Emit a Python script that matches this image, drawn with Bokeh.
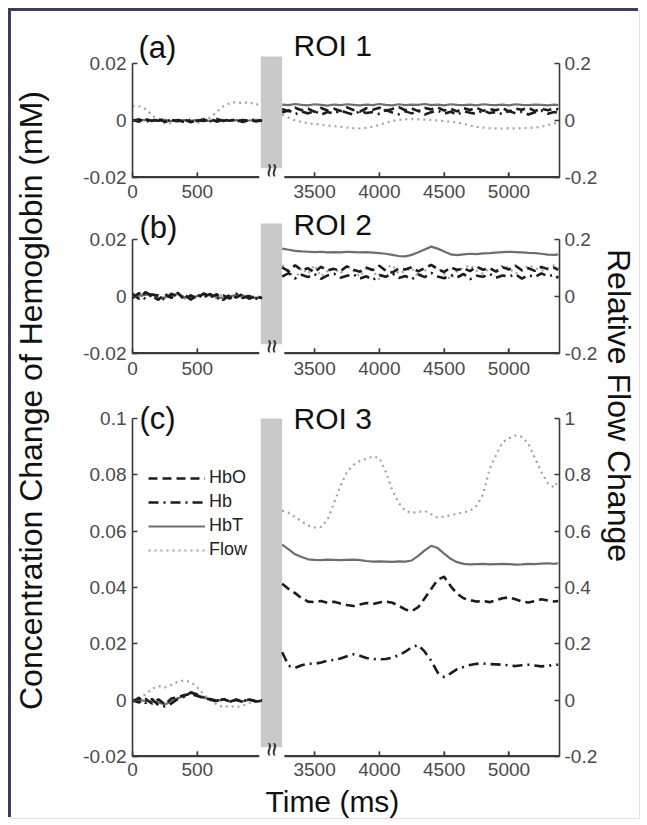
import math
import numpy as np
from bokeh.plotting import figure
from bokeh.models import Range1d, LinearAxis, FixedTicker, Label, Legend, LegendItem
from bokeh.layouts import row, column
from bokeh.embed import file_html
from bokeh.resources import INLINE

FONT = "Liberation Sans"

# ---------------- data ----------------
T_LEFT = [0, 50, 100, 150, 200, 250, 300,
          350, 400, 450, 500, 550, 600, 650,
          700, 750, 800, 850, 900, 950, 1000]
T_RIGHT = [3250, 3300, 3350, 3400, 3450, 3500, 3550, 3600, 3650, 3700, 3750,
           3800, 3850, 3900, 3950, 4000, 4050, 4100, 4150, 4200, 4250, 4300,
           4350, 4400, 4450, 4500, 4550, 4600, 4650, 4700, 4750, 4800, 4850,
           4900, 4950, 5000, 5050, 5100, 5150, 5200, 5250, 5300, 5350, 5380]

XTICK_TIMES = [0, 500, 3500, 4000, 4500, 5000]
XTICK_LABELS = ["0", "500", "3500", "4000", "4500", "5000"]

CONC_TICKS_AB = [-0.02, 0, 0.02]
CONC_LABELS_AB = ["-0.02", "0", "0.02"]
FLOW_TICKS_AB = [-0.2, 0, 0.2]
FLOW_LABELS_AB = ["-0.2", "0", "0.2"]
CONC_TICKS_C = [-0.02, 0, 0.02, 0.04, 0.06, 0.08, 0.1]
CONC_LABELS_C = ["-0.02", "0", "0.02", "0.04", "0.06", "0.08", "0.1"]
FLOW_TICKS_C = [-0.2, 0, 0.2, 0.4, 0.6, 0.8, 1]
FLOW_LABELS_C = ["-0.2", "0", "0.2", "0.4", "0.6", "0.8", "1"]

SERIES = ["HbO", "Hb", "HbT", "Flow"]

# panel (a) ROI 1
HBO_A_LEFT = [0.0003, -0.0004, 0.0005, -0.0002, 0.0006, -0.0005, 0.0002,
              -0.0003, 0.0004, -0.0006, 0.0001, -0.0002, 0.0005, -0.0004,
              0.0003, -0.0001, 0.0004, -0.0005, 0.0002, -0.0003, 0.0001]
HB_A_LEFT = [-0.0002, 0.0004, -0.0005, 0.0003, -0.0001, 0.0005, -0.0004,
             0.0002, -0.0006, 0.0003, -0.0002, 0.0004, -0.0003, 0.0005,
             -0.0002, 0.0003, -0.0004, 0.0002, -0.0001, 0.0004, -0.0002]
HBT_A_LEFT = [0.0001, 0.0000, 0.0002, 0.0001, -0.0001, 0.0002, -0.0002,
              0.0000, 0.0001, -0.0001, 0.0002, 0.0000, -0.0001, 0.0001,
              0.0002, 0.0000, 0.0001, -0.0001, 0.0000, 0.0002, 0.0001]
FLOW_A_LEFT = [0.050, 0.050, 0.040, 0.020, 0.000, -0.010, -0.010,
               0.000, -0.005, 0.000, -0.010, 0.000, 0.010, 0.030,
               0.050, 0.060, 0.065, 0.060, 0.065, 0.055, 0.060]
HBO_A_RIGHT = [0.0040, 0.0032, 0.0045, 0.0036, 0.0042, 0.0030, 0.0044, 0.0035, 0.0041, 0.0033, 0.0046,
               0.0037, 0.0031, 0.0043, 0.0038, 0.0045, 0.0034, 0.0040, 0.0047, 0.0036, 0.0042, 0.0033,
               0.0044, 0.0039, 0.0046, 0.0035, 0.0041, 0.0032, 0.0043, 0.0037, 0.0045, 0.0034, 0.0040,
               0.0036, 0.0044, 0.0031, 0.0042, 0.0038, 0.0045, 0.0033, 0.0041, 0.0036, 0.0043, 0.0039]
HB_A_RIGHT = [0.0028, 0.0036, 0.0022, 0.0031, 0.0025, 0.0034, 0.0020, 0.0030, 0.0024, 0.0035, 0.0027,
              0.0021, 0.0033, 0.0026, 0.0030, 0.0023, 0.0037, 0.0028, 0.0022, 0.0032, 0.0025, 0.0034,
              0.0021, 0.0029, 0.0035, 0.0024, 0.0031, 0.0020, 0.0033, 0.0027, 0.0023, 0.0036, 0.0026,
              0.0030, 0.0022, 0.0034, 0.0025, 0.0031, 0.0021, 0.0029, 0.0035, 0.0024, 0.0030, 0.0027]
HBT_A_RIGHT = [0.0056, 0.0054, 0.0058, 0.0055, 0.0053, 0.0057, 0.0055, 0.0052, 0.0056, 0.0054, 0.0057,
               0.0055, 0.0053, 0.0056, 0.0054, 0.0058, 0.0055, 0.0053, 0.0057, 0.0054, 0.0056, 0.0055,
               0.0058, 0.0054, 0.0056, 0.0053, 0.0057, 0.0055, 0.0054, 0.0056, 0.0053, 0.0057, 0.0055,
               0.0054, 0.0056, 0.0053, 0.0057, 0.0055, 0.0054, 0.0056, 0.0055, 0.0053, 0.0056, 0.0054]
FLOW_A_RIGHT = [0.020, 0.010, 0.000, -0.005, -0.010, -0.012, -0.015, -0.018, -0.020, -0.022, -0.025,
                -0.027, -0.028, -0.026, -0.022, -0.015, -0.008, -0.002, 0.002, 0.004, 0.005, 0.004,
                0.003, 0.002, 0.000, -0.002, -0.004, -0.007, -0.012, -0.018, -0.022, -0.025, -0.027,
                -0.028, -0.028, -0.027, -0.028, -0.027, -0.026, -0.025, -0.022, -0.016, -0.010, -0.008]

# panel (b) ROI 2
HBO_B_LEFT = [0.0010, -0.0008, 0.0015, 0.0002, -0.0012, 0.0009, -0.0005,
              0.0013, -0.0010, 0.0004, -0.0007, 0.0011, -0.0003, 0.0008,
              -0.0012, 0.0006, -0.0004, 0.0009, -0.0008, 0.0003, -0.0006]
HB_B_LEFT = [-0.0006, 0.0012, -0.0010, 0.0007, 0.0003, -0.0013, 0.0010,
             -0.0004, 0.0008, -0.0011, 0.0005, -0.0002, 0.0009, -0.0009,
             0.0004, -0.0007, 0.0010, -0.0005, 0.0002, -0.0008, 0.0001]
HBT_B_LEFT = [0.0004, 0.0003, 0.0006, 0.0008, -0.0006, -0.0003, 0.0004,
              0.0009, -0.0002, -0.0006, 0.0002, 0.0008, 0.0005, -0.0001,
              -0.0007, 0.0001, 0.0005, 0.0004, -0.0006, -0.0004, -0.0005]
FLOW_B_LEFT = [0.010, -0.010, 0.015, 0.000, -0.012, 0.008, -0.005,
               0.012, -0.008, 0.005, -0.010, 0.010, 0.000, -0.006,
               0.008, -0.010, 0.004, -0.004, 0.006, -0.008, 0.000]
HBO_B_RIGHT = [0.0102, 0.0088, 0.0110, 0.0092, 0.0099, 0.0085, 0.0104, 0.0091, 0.0097, 0.0089, 0.0106,
               0.0094, 0.0087, 0.0101, 0.0093, 0.0108, 0.0090, 0.0084, 0.0098, 0.0095, 0.0103, 0.0088,
               0.0100, 0.0111, 0.0096, 0.0086, 0.0102, 0.0093, 0.0099, 0.0089, 0.0105, 0.0094, 0.0100,
               0.0087, 0.0103, 0.0095, 0.0108, 0.0092, 0.0099, 0.0090, 0.0104, 0.0096, 0.0101, 0.0093]
HB_B_RIGHT = [0.0070, 0.0082, 0.0064, 0.0076, 0.0068, 0.0079, 0.0062, 0.0074, 0.0080, 0.0066, 0.0073,
              0.0078, 0.0063, 0.0071, 0.0058, 0.0075, 0.0069, 0.0081, 0.0065, 0.0072, 0.0060, 0.0077,
              0.0068, 0.0083, 0.0070, 0.0064, 0.0076, 0.0067, 0.0079, 0.0061, 0.0073, 0.0069, 0.0080,
              0.0066, 0.0074, 0.0070, 0.0078, 0.0063, 0.0075, 0.0068, 0.0081, 0.0071, 0.0077, 0.0065]
HBT_B_RIGHT = [0.0168, 0.0164, 0.0160, 0.0158, 0.0157, 0.0156, 0.0157, 0.0155, 0.0156, 0.0155, 0.0157,
               0.0156, 0.0155, 0.0156, 0.0154, 0.0152, 0.0150, 0.0146, 0.0142, 0.0141, 0.0146, 0.0155,
               0.0165, 0.0175, 0.0168, 0.0158, 0.0148, 0.0145, 0.0148, 0.0150, 0.0149, 0.0151, 0.0152,
               0.0154, 0.0156, 0.0157, 0.0156, 0.0155, 0.0153, 0.0152, 0.0150, 0.0147, 0.0146, 0.0148]
FLOW_B_RIGHT = [0.11, 0.09, 0.06, 0.10, 0.08, 0.11, 0.07, 0.09, 0.10, 0.08, 0.11,
                0.09, 0.07, 0.10, 0.09, 0.06, 0.10, 0.11, 0.08, 0.09, 0.10, 0.07,
                0.09, 0.11, 0.10, 0.08, 0.06, 0.09, 0.10, 0.11, 0.09, 0.08, 0.10,
                0.09, 0.11, 0.10, 0.08, 0.09, 0.11, 0.10, 0.09, 0.10, 0.11, 0.10]

# panel (c) ROI 3
HBO_C_LEFT = [0.0000, -0.0008, 0.0005, -0.0012, 0.0003, -0.0015, 0.0006,
              0.0010, 0.0018, 0.0022, 0.0015, 0.0008, 0.0002, -0.0005,
              0.0003, -0.0004, 0.0001, -0.0006, 0.0002, -0.0003, 0.0000]
HB_C_LEFT = [-0.0005, 0.0008, -0.0010, 0.0004, -0.0018, -0.0022, -0.0012,
             0.0004, 0.0012, 0.0028, 0.0020, 0.0010, 0.0004, -0.0002,
             0.0005, -0.0006, 0.0002, -0.0004, 0.0003, -0.0005, -0.0002]
HBT_C_LEFT = [-0.0002, 0.0000, -0.0003, -0.0004, -0.0008, -0.0015, -0.0005,
              0.0007, 0.0015, 0.0025, 0.0018, 0.0009, 0.0003, -0.0004,
              0.0004, -0.0005, 0.0002, -0.0005, 0.0003, -0.0004, -0.0002]
FLOW_C_LEFT = [0.000, 0.010, 0.020, 0.040, 0.050, 0.045, 0.055,
               0.065, 0.070, 0.065, 0.045, 0.020, 0.000, -0.015,
               -0.025, -0.020, -0.025, -0.020, -0.010, -0.005, 0.000]
HBO_C_RIGHT = [0.0413, 0.0395, 0.0380, 0.0362, 0.0350, 0.0348, 0.0352, 0.0346, 0.0349, 0.0343, 0.0338,
               0.0334, 0.0340, 0.0345, 0.0341, 0.0347, 0.0350, 0.0346, 0.0335, 0.0322, 0.0316, 0.0330,
               0.0362, 0.0395, 0.0428, 0.0438, 0.0405, 0.0378, 0.0362, 0.0355, 0.0350, 0.0352, 0.0348,
               0.0355, 0.0362, 0.0365, 0.0358, 0.0350, 0.0347, 0.0352, 0.0358, 0.0354, 0.0350, 0.0352]
HB_C_RIGHT = [0.0170, 0.0122, 0.0115, 0.0124, 0.0130, 0.0129, 0.0134, 0.0140, 0.0143, 0.0148, 0.0156,
              0.0163, 0.0158, 0.0150, 0.0146, 0.0145, 0.0146, 0.0151, 0.0160, 0.0172, 0.0188, 0.0196,
              0.0172, 0.0140, 0.0098, 0.0082, 0.0095, 0.0110, 0.0118, 0.0125, 0.0129, 0.0130, 0.0128,
              0.0127, 0.0126, 0.0123, 0.0121, 0.0124, 0.0126, 0.0123, 0.0120, 0.0122, 0.0125, 0.0126]
HBT_C_RIGHT = [0.0552, 0.0535, 0.0518, 0.0508, 0.0500, 0.0498, 0.0497, 0.0499, 0.0498, 0.0497, 0.0498,
               0.0499, 0.0497, 0.0494, 0.0492, 0.0493, 0.0492, 0.0491, 0.0493, 0.0492, 0.0496, 0.0512,
               0.0532, 0.0548, 0.0540, 0.0520, 0.0502, 0.0490, 0.0484, 0.0482, 0.0483, 0.0484, 0.0482,
               0.0483, 0.0484, 0.0483, 0.0481, 0.0482, 0.0484, 0.0483, 0.0485, 0.0486, 0.0484, 0.0486]
FLOW_C_RIGHT = [0.673, 0.665, 0.650, 0.635, 0.620, 0.613, 0.615, 0.640, 0.700, 0.760, 0.810,
                0.835, 0.850, 0.857, 0.865, 0.860, 0.810, 0.745, 0.700, 0.672, 0.665, 0.668,
                0.672, 0.660, 0.648, 0.652, 0.657, 0.662, 0.667, 0.672, 0.690, 0.730, 0.820,
                0.870, 0.915, 0.930, 0.940, 0.935, 0.910, 0.860, 0.810, 0.770, 0.755, 0.780]

# ---------------- broken time axis ----------------
LEFT_END = 1000
RIGHT_START = 3250
RIGHT_END = 5390
GAP = 155


def disp(t):
    return t if t <= LEFT_END else t - RIGHT_START + LEFT_END + GAP


X_MAX = disp(RIGHT_END)
AXIS_COLOR = "#3a3a3a"

STYLE = {
    "HbO": dict(line_color="#1c1c1c", line_width=2.6, line_dash="9 5"),
    "Hb": dict(line_color="#1c1c1c", line_width=2.6, line_dash="10 5 2 5"),
    "HbT": dict(line_color="#6e6e6e", line_width=2.2),
    "Flow": dict(line_color="#a3a3a3", line_width=2.2, line_dash="2 4"),
}


def style_axis(ax, standoff):
    ax.axis_line_color = AXIS_COLOR
    ax.axis_line_width = 1.6
    ax.major_tick_line_color = AXIS_COLOR
    ax.major_tick_line_width = 1.4
    ax.major_tick_in = 5
    ax.major_tick_out = 0
    ax.minor_tick_line_color = None
    ax.major_label_text_font = FONT
    ax.major_label_text_font_size = "19px"
    ax.major_label_text_color = "#4a4a4a"
    ax.major_label_standoff = standoff


def make_panel(h, top_pad, bot_pad, axis_px, cticks, clabels, fticks, flabels,
               data, tag, roi, bar_px, tag_xy, roi_xy, x_standoff, legend=False):
    frame_h = h - top_pad - bot_pad
    c_lo = cticks[0]
    per_px = (cticks[-1] - c_lo) / axis_px
    c_hi = c_lo + frame_h * per_px
    f_lo = fticks[0]
    f_hi = f_lo + frame_h * (fticks[-1] - f_lo) / axis_px
    p = figure(width=545, height=h, x_range=Range1d(0, X_MAX), y_range=Range1d(c_lo, c_hi),
               toolbar_location=None, output_backend="svg",
               min_border_left=77, min_border_right=40,
               min_border_top=top_pad, min_border_bottom=bot_pad,
               x_axis_type=None, y_axis_type=None, outline_line_color=None,
               background_fill_color="white", border_fill_color="white")
    p.extra_y_ranges = {"flow": Range1d(f_lo, f_hi)}

    xt = [disp(t) for t in XTICK_TIMES]
    xa = LinearAxis(ticker=FixedTicker(ticks=xt),
                    major_label_overrides={d: l for d, l in zip(xt, XTICK_LABELS)})
    style_axis(xa, x_standoff)
    p.add_layout(xa, "below")
    ya = LinearAxis(ticker=FixedTicker(ticks=cticks), bounds=(cticks[0], cticks[-1]),
                    major_label_overrides={t: l for t, l in zip(cticks, clabels)})
    style_axis(ya, 6)
    p.add_layout(ya, "left")
    yb = LinearAxis(y_range_name="flow", ticker=FixedTicker(ticks=fticks), bounds=(fticks[0], fticks[-1]),
                    major_label_overrides={t: l for t, l in zip(fticks, flabels)})
    style_axis(yb, 5)
    p.add_layout(yb, "right")

    # time-axis baseline and inward ticks, reinforced inside the frame
    p.line([0, X_MAX], [c_lo, c_lo], line_color=AXIS_COLOR, line_width=3.2)
    p.segment(x0=xt, y0=[c_lo] * len(xt), x1=xt, y1=[c_lo + 5 * per_px] * len(xt),
              line_color=AXIS_COLOR, line_width=1.4)

    # gray break bar (ends just above the time axis)
    p.quad(left=[990], right=[disp(RIGHT_START)], bottom=[c_lo + 9 * per_px], top=[c_lo + bar_px * per_px],
           fill_color="#c9c9c9", line_color=None)

    renderers = {}
    for name in ["Flow", "HbT", "HbO", "Hb"]:
        left_vals, right_vals = data[name]
        xs = np.array([disp(t) for t in T_LEFT] + [np.nan] + [disp(t) for t in T_RIGHT], dtype=float)
        ys = np.array(list(left_vals) + [np.nan] + list(right_vals), dtype=float)
        kw = dict(STYLE[name])
        if name == "Flow":
            kw["y_range_name"] = "flow"
        renderers[name] = p.line(xs, ys, **kw)

    # axis break: white gap in the baseline and a double squiggle
    p.quad(left=[978], right=[1172], bottom=[c_lo - 3 * per_px], top=[c_lo + 9 * per_px],
           fill_color="white", line_color=None, level="overlay")
    p.add_layout(Label(x=(990 + disp(RIGHT_START)) / 2, y=c_lo + 7 * per_px, text="\u2248",
                       angle=math.pi / 2, text_align="center", text_baseline="middle",
                       text_font=FONT, text_font_size="25px", text_color="#222222", level="overlay"))
    p.add_layout(Label(x=tag_xy[0], y=tag_xy[1], x_units="screen", y_units="screen", text=tag,
                       text_font=FONT, text_font_size="31px", text_baseline="middle",
                       text_color="#111111"))
    p.add_layout(Label(x=roi_xy[0], y=roi_xy[1], x_units="screen", y_units="screen", text=roi,
                       text_font=FONT, text_font_size="30px", text_baseline="middle",
                       text_color="#111111"))
    if legend:
        lg = Legend(items=[LegendItem(label=n, renderers=[renderers[n]]) for n in SERIES],
                    location=(16, 196), orientation="vertical",
                    glyph_width=57, glyph_height=20, label_height=20, spacing=3,
                    label_standoff=4, padding=0, margin=0,
                    border_line_color=None, background_fill_alpha=0,
                    label_text_font=FONT, label_text_font_size="18px",
                    label_text_color="#222222")
        p.add_layout(lg)
    return p


# panel geometry: canvas height, space above and below frame, px between end ticks of the left axis
fa = make_panel(196, 9, 30, 114, CONC_TICKS_AB, CONC_LABELS_AB, FLOW_TICKS_AB, FLOW_LABELS_AB,
                {"HbO": (HBO_A_LEFT, HBO_A_RIGHT), "Hb": (HB_A_LEFT, HB_A_RIGHT),
                 "HbT": (HBT_A_LEFT, HBT_A_RIGHT), "Flow": (FLOW_A_LEFT, FLOW_A_RIGHT)},
                "(a)", "ROI 1", 121, (6, 130), (161, 132), 7)
fb = make_panel(185, 2, 39, 114, CONC_TICKS_AB, CONC_LABELS_AB, FLOW_TICKS_AB, FLOW_LABELS_AB,
                {"HbO": (HBO_B_LEFT, HBO_B_RIGHT), "Hb": (HB_B_LEFT, HB_B_RIGHT),
                 "HbT": (HBT_B_LEFT, HBT_B_RIGHT), "Flow": (FLOW_B_LEFT, FLOW_B_RIGHT)},
                "(b)", "ROI 2", 130, (7, 126), (161, 129), 8)
fc = make_panel(392, 6, 28, 338, CONC_TICKS_C, CONC_LABELS_C, FLOW_TICKS_C, FLOW_LABELS_C,
                {"HbO": (HBO_C_LEFT, HBO_C_RIGHT), "Hb": (HB_C_LEFT, HB_C_RIGHT),
                 "HbT": (HBT_C_LEFT, HBT_C_RIGHT), "Flow": (FLOW_C_LEFT, FLOW_C_RIGHT)},
                "(c)", "ROI 3", 338, (7, 338), (161, 338), 6, legend=True)


def text_box(width, height, text, x, y, angle, align, size):
    s = figure(width=width, height=height, x_range=Range1d(0, 1), y_range=Range1d(0, 1),
               toolbar_location=None, output_backend="svg", min_border=0,
               x_axis_type=None, y_axis_type=None, outline_line_color=None,
               background_fill_color="white", border_fill_color="white")
    s.add_layout(Label(x=x, y=y, x_units="screen", y_units="screen", text=text, angle=angle,
                       text_align=align, text_baseline="middle", text_font=FONT,
                       text_font_size=size, text_color="#111111"))
    return s


# the column aligns this box's frame with the panel frames (left edge at the time axis origin)
time_box = text_box(545, 34, "Time (ms)", 133, 17, 0, "left", "30px")
left_strip = text_box(44, 807, "Concentration Change of Hemoglobin (mM)", 19, 418, math.pi / 2, "center", "32px")
right_strip = text_box(39, 807, "Relative Flow Change", 18, 413, -math.pi / 2, "center", "32px")

layout = row(left_strip, column(fa, fb, fc, time_box), right_strip, margin=(11, 8, 7, 11),
             styles={"box-shadow": "-2px -2px 0 1px #3d3d5e, 0 0 0 1px #ecdce8"})

open("out.html", "w").write(file_html(layout, INLINE))
